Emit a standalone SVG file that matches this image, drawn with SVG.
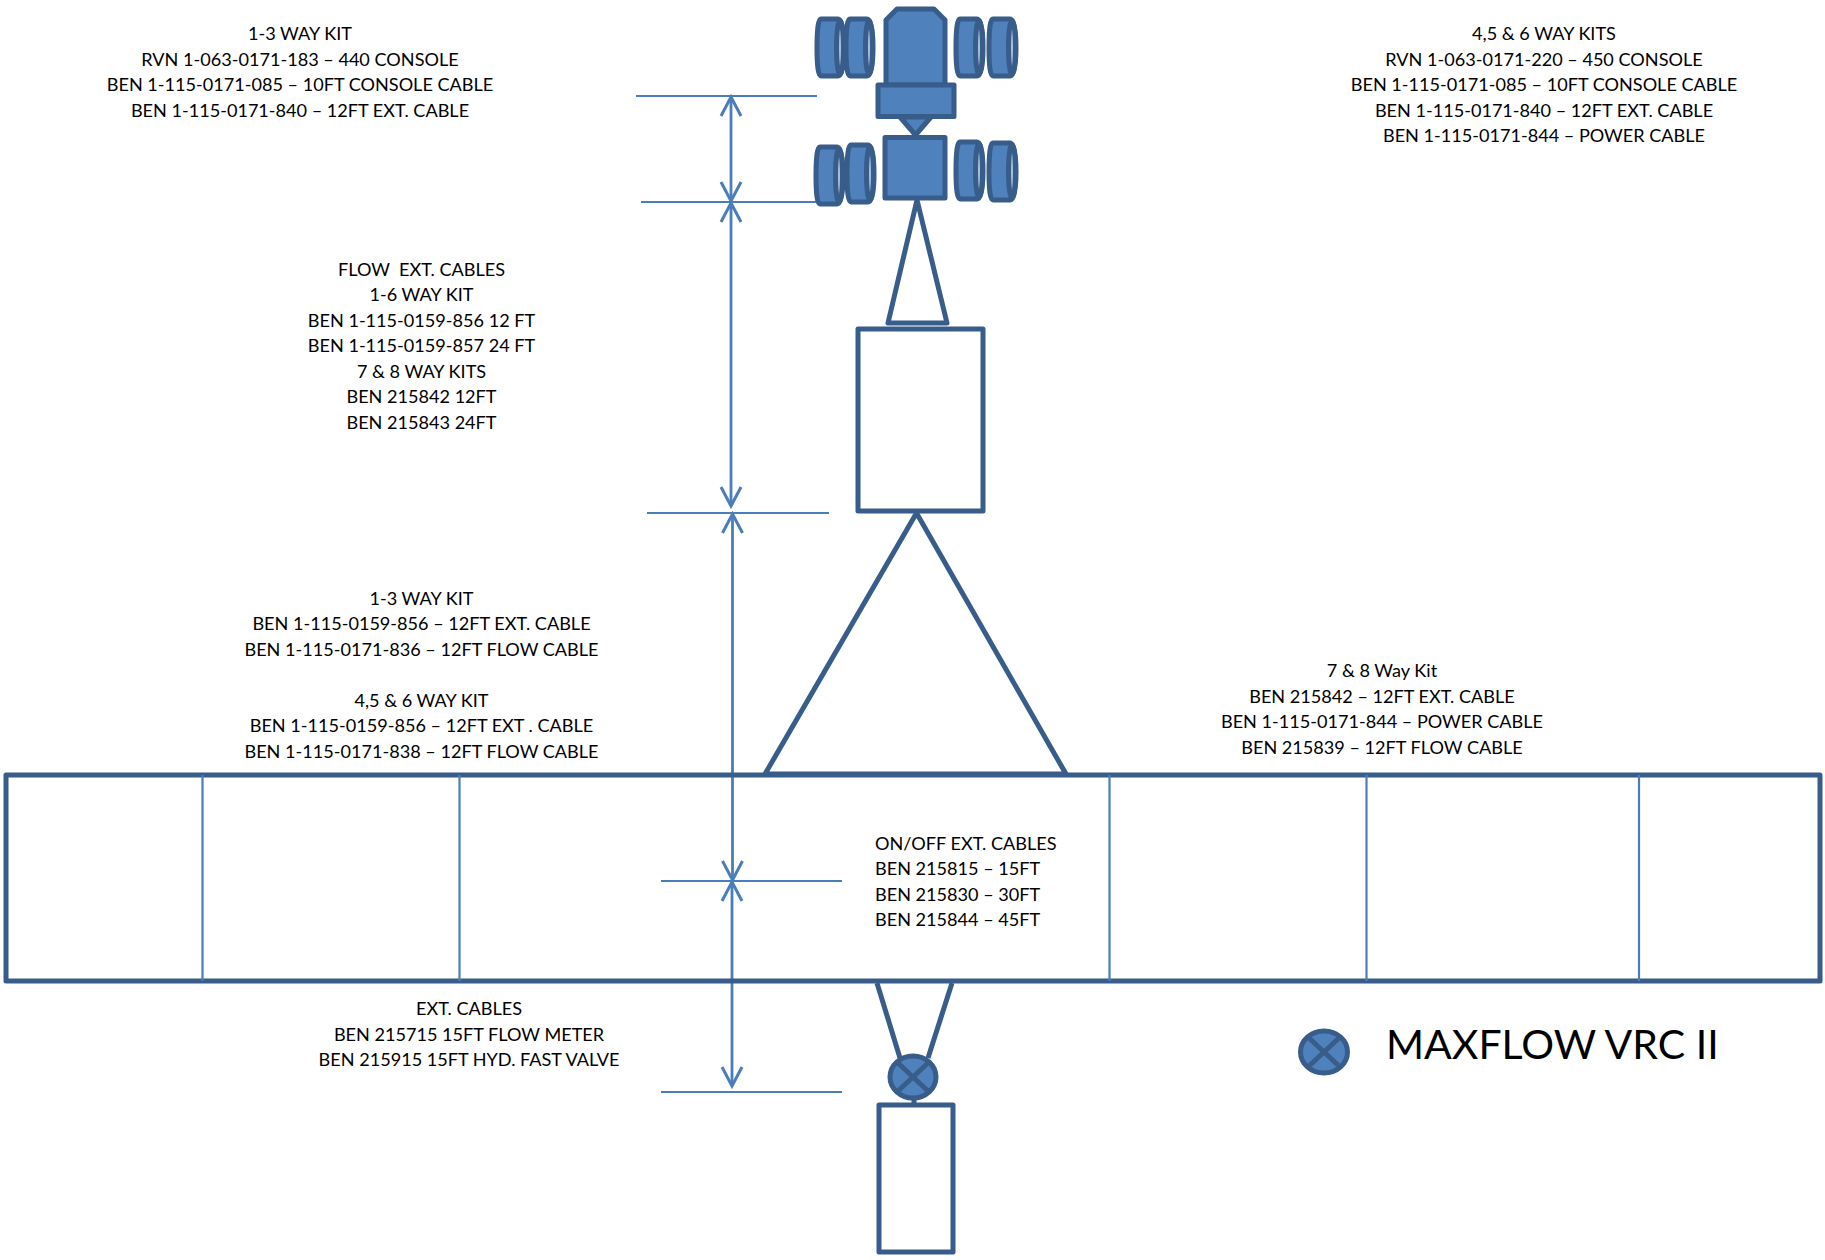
<svg xmlns="http://www.w3.org/2000/svg" width="1825" height="1260" viewBox="0 0 1825 1260">
<style>
text{font-family:"Lato","Open Sans","Liberation Sans",sans-serif;font-size:18.1px;fill:#000}
.m{text-anchor:middle}
.title{font-size:41px}
.o{fill:none;stroke:#385D8A;stroke-width:5;stroke-linejoin:round}
.w{fill:#fff;stroke:#385D8A;stroke-width:5;stroke-linejoin:round}
.f{fill:#4F81BD;stroke:#385D8A;stroke-width:5;stroke-linejoin:round}
.x{fill:none;stroke:#385D8A;stroke-width:5}
.d{fill:none;stroke:#4A7EBB;stroke-width:2.2}
.a{fill:none;stroke:#4A7EBB;stroke-width:2.8}
.e{fill:#A9C0DE;stroke:#385D8A;stroke-width:5}
</style>
<defs>
<g id="can">
<path class="f" d="M5,0H22Q28,0 28,29Q28,57 22,57H5Q1,57 1,29Q1,0 5,0Z"/>
<ellipse cx="24" cy="28.500" rx="3.500" ry="27" class="e"/>
</g>
<marker id="arr" markerUnits="userSpaceOnUse" markerWidth="24" markerHeight="24" refX="20" refY="12" orient="auto-start-reverse" viewBox="0 0 24 24"><path d="M1,2L20,12L1,22" fill="none" stroke="#4A7EBB" stroke-width="3"/></marker>
</defs>
<g id="connectors">
<path class="d" d="M636,96H817M641,202H817M647,513H829M661,881H842M661,1092H842"/>
<line class="a" x1="731" y1="97" x2="731" y2="201" marker-start="url(#arr)" marker-end="url(#arr)"/>
<line class="a" x1="731" y1="203" x2="731" y2="506" marker-start="url(#arr)" marker-end="url(#arr)"/>
<line class="a" x1="732.500" y1="514" x2="732.500" y2="880" marker-start="url(#arr)" marker-end="url(#arr)"/>
<line class="a" x1="732" y1="882" x2="732" y2="1086" marker-start="url(#arr)" marker-end="url(#arr)"/>
</g>
<g id="manifold">
<rect class="o" x="6" y="775" width="1814" height="206"/>
<path class="d" d="M202.500,775V981M459.500,775V981M1109.500,775V981M1366.500,775V981M1639,775V981"/>
</g>
<g id="console">
<path class="f" d="M886,85V20L897,9H934L945,20V85Z"/>
<rect class="f" x="878" y="85" width="76" height="31.500"/>
<path class="f" d="M900,117H931L915.500,135Z"/>
<rect class="f" x="885" y="137.500" width="60" height="60.500"/>
<use href="#can" x="816" y="19"/>
<use href="#can" x="845" y="19"/>
<use href="#can" x="955" y="19"/>
<use href="#can" x="988" y="19"/>
<use href="#can" x="815" y="147"/>
<use href="#can" x="846" y="145"/>
<use href="#can" x="955" y="142"/>
<use href="#can" x="988" y="143"/>
</g>
<g id="flow-taper"><path class="o" d="M917,200L888,323H947Z"/></g>
<g id="flow-box"><rect class="w" x="858" y="329" width="125" height="182"/></g>
<g id="manifold-taper"><path class="o" d="M916.500,513L765,774H1066Z"/></g>
<g id="valve">
<path class="o" d="M877,983L900,1058M952,983L928,1058"/>
<line class="x" x1="914" y1="1096" x2="914" y2="1106"/>
<ellipse class="f" cx="913" cy="1077" rx="23" ry="21"/>
<path class="x" d="M897,1062L929,1092M929,1062L897,1092"/>
</g>
<g id="meter-box"><rect class="w" x="879" y="1105" width="74" height="147"/></g>
<g id="legend">
<ellipse class="f" cx="1324" cy="1052" rx="23.500" ry="21"/>
<path class="x" d="M1308,1037L1340,1067M1340,1037L1308,1067"/>
<text class="title" x="1386" y="1059">MAXFLOW VRC II</text>
</g>
<g id="labels">
<text class="m"><tspan x="300" y="40">1-3 WAY KIT</tspan><tspan x="300" y="65.600">RVN 1-063-0171-183 – 440 CONSOLE</tspan><tspan x="300" y="91.200">BEN 1-115-0171-085 – 10FT CONSOLE CABLE</tspan><tspan x="300" y="116.800">BEN 1-115-0171-840 – 12FT EXT. CABLE</tspan></text>
<text class="m"><tspan x="1544" y="40">4,5 &amp; 6 WAY KITS</tspan><tspan x="1544" y="65.600">RVN 1-063-0171-220 – 450 CONSOLE</tspan><tspan x="1544" y="91.200">BEN 1-115-0171-085 – 10FT CONSOLE CABLE</tspan><tspan x="1544" y="116.800">BEN 1-115-0171-840 – 12FT EXT. CABLE</tspan><tspan x="1544" y="142.400">BEN 1-115-0171-844 – POWER CABLE</tspan></text>
<text class="m"><tspan x="421.500" y="275.500">FLOW&#160; EXT. CABLES</tspan><tspan x="421.500" y="301">1-6 WAY KIT</tspan><tspan x="421.500" y="326.600">BEN 1-115-0159-856 12 FT</tspan><tspan x="421.500" y="352.200">BEN 1-115-0159-857 24 FT</tspan><tspan x="421.500" y="377.800">7 &amp; 8 WAY KITS</tspan><tspan x="421.500" y="403.400">BEN 215842 12FT</tspan><tspan x="421.500" y="429">BEN 215843 24FT</tspan></text>
<text class="m"><tspan x="421.500" y="604.500">1-3 WAY KIT</tspan><tspan x="421.500" y="630">BEN 1-115-0159-856 – 12FT EXT. CABLE</tspan><tspan x="421.500" y="655.600">BEN 1-115-0171-836 – 12FT FLOW CABLE</tspan><tspan x="421.500" y="706.800">4,5 &amp; 6 WAY KIT</tspan><tspan x="421.500" y="732.400">BEN 1-115-0159-856 – 12FT EXT . CABLE</tspan><tspan x="421.500" y="758">BEN 1-115-0171-838 – 12FT FLOW CABLE</tspan></text>
<text class="m"><tspan x="1382" y="677">7 &amp; 8 Way Kit</tspan><tspan x="1382" y="702.600">BEN 215842 – 12FT EXT. CABLE</tspan><tspan x="1382" y="728.200">BEN 1-115-0171-844 – POWER CABLE</tspan><tspan x="1382" y="753.800">BEN 215839 – 12FT FLOW CABLE</tspan></text>
<text><tspan x="875" y="850">ON/OFF EXT. CABLES</tspan><tspan x="875" y="875">BEN 215815 – 15FT</tspan><tspan x="875" y="900.600">BEN 215830 – 30FT</tspan><tspan x="875" y="926.200">BEN 215844 – 45FT</tspan></text>
<text class="m"><tspan x="469" y="1015">EXT. CABLES</tspan><tspan x="469" y="1040.600">BEN 215715 15FT FLOW METER</tspan><tspan x="469" y="1066.400">BEN 215915 15FT HYD. FAST VALVE</tspan></text>
</g>
</svg>
